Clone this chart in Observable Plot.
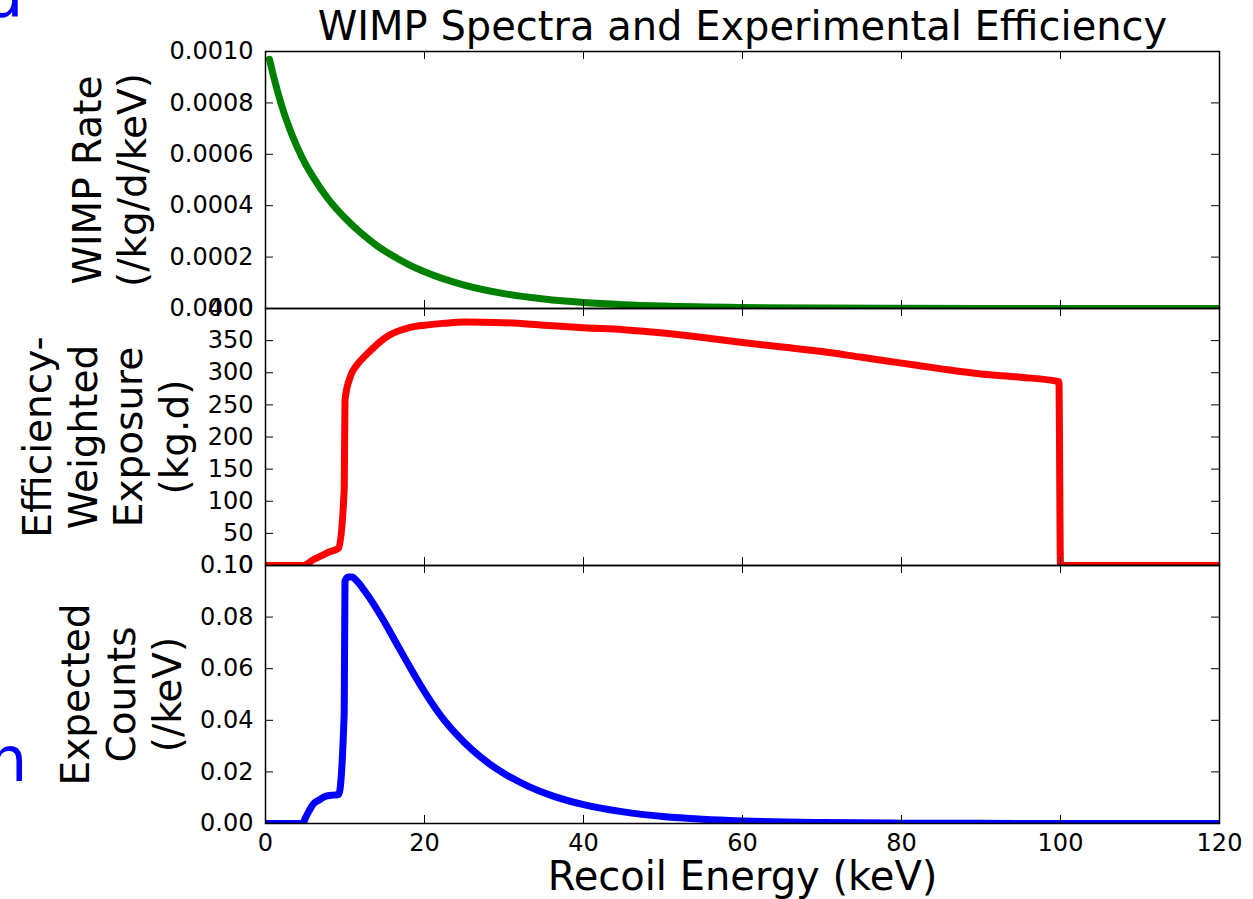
<!DOCTYPE html>
<html>
<head>
<meta charset="utf-8">
<script src="https://cdn.jsdelivr.net/npm/d3@7"></script>
<script src="https://cdn.jsdelivr.net/npm/@observablehq/plot@0.6"></script>
<style>
  html, body { margin: 0; padding: 0; background: #fff; }
  #wrap { position: relative; width: 1253px; height: 899px; overflow: hidden; font-family: "DejaVu Sans", sans-serif; }
  #wrap svg { position: absolute; left: 0; top: 0; }
  .frag { position: absolute; color: #0000ff; font-family: "DejaVu Sans", sans-serif; font-size: 62px; line-height: 62px; white-space: pre; }
</style>
</head>
<body>
<div id="wrap">
  <div class="frag" style="left:-16px; top:-36px;">d</div>
  <div class="frag" style="left:-12px; top:729px;">n</div>
</div>
<script>
// ---- data ----
const title = "WIMP Spectra and Experimental Efficiency";
const xLabel = "Recoil Energy (keV)";
const xTicks = [0, 20, 40, 60, 80, 100, 120];

// Panel 1: WIMP rate
const rateLabel = "WIMP Rate\n(/kg/d/keV)";
const rateTicks = [0, 0.0002, 0.0004, 0.0006, 0.0008, 0.0010];
const rateEnergy = [0.5, 1, 2, 3, 4, 5, 6, 7, 8, 9, 10, 12, 14, 16, 18, 20, 25, 30, 35, 40, 45, 50, 60, 70, 80, 90, 100, 110, 120];
const rateValue  = [0.00097, 0.000905, 0.000793, 0.000702, 0.000627, 0.000564, 0.000511, 0.000464, 0.000422, 0.000385, 0.000352, 0.000294, 0.000245, 0.000205, 0.000171, 0.000143, 0.000091, 0.000058, 0.000037, 0.0000235, 0.000015, 0.0000095, 0.0000038, 0.0000015, 0.0000006, 0.0000002, 0.0000001, 0, 0];

// Panel 2: efficiency-weighted exposure
const expoLabel = "Efficiency-\nWeighted\nExposure\n(kg.d)";
const expoTicks = [0, 50, 100, 150, 200, 250, 300, 350, 400];
const expoEnergy = [0, 4.8, 6, 7, 8, 9.2, 9.9, 10.0, 10.7, 11.5, 12.5, 13.5, 14.5, 15.5, 16.5, 18, 20, 22.5, 25, 30, 35, 40, 45, 50, 55, 60, 65, 70, 75, 80, 85, 90, 95, 99.8, 100, 120];
const expoValue  = [0, 0, 9, 15, 21, 27, 118, 258, 295, 312, 326, 338, 349, 358, 364, 370, 374, 377, 379, 378, 374, 370, 367, 362, 355, 347, 340, 333, 324, 315, 306, 298, 293, 286, 0, 0];

// Panel 3: expected counts
const countLabel = "Expected\nCounts\n(/keV)";
const countTicks = [0, 0.02, 0.04, 0.06, 0.08, 0.10];
const countEnergy = [0, 4.7, 5, 5.5, 6, 6.7, 7.5, 8.5, 9.2, 9.9, 10.0, 10.4, 10.9, 11.5, 12.5, 13.5, 14.5, 15.5, 16.5, 17.5, 18.5, 19.5, 20.5, 21.5, 22.5, 24, 26, 28, 30, 33, 36, 40, 45, 50, 55, 60, 70, 80, 90, 100, 100.1, 120];
const countValue  = [0, 0, 0.002, 0.005, 0.0075, 0.009, 0.0105, 0.011, 0.0112, 0.043, 0.094, 0.0955, 0.0955, 0.094, 0.0900, 0.0855, 0.0805, 0.0752, 0.0697, 0.0642, 0.0588, 0.0536, 0.0487, 0.0441, 0.0400, 0.0346, 0.0285, 0.0235, 0.0194, 0.0145, 0.0108, 0.0073, 0.0045, 0.0027, 0.00165, 0.0010, 0.00038, 0.00014, 0.00005, 0.00002, 0, 0];

// ---- layout ----
const W = 1253, H = 899, ML = 265, MR = 34;
const FONT = "DejaVu Sans";

function panel({energy, value, color, yDomain, yTicks, yFormat, label, labelDx, lineH, top, bottom, extra = [], xAxis = false}) {
  const ph = bottom - top, pw = W - ML - MR;
  const data = energy.map((e, i) => ({e, v: value[i]}));
  const marks = [
    Plot.line(data, {x: "e", y: "v", stroke: color, strokeWidth: 7, strokeLinejoin: "round", curve: "monotone-x", clip: true}),
    Plot.tickX(xTicks, {x: d => d, insetTop: ph - 8, stroke: "black", strokeWidth: 1}),
    Plot.tickX(xTicks, {x: d => d, insetBottom: ph - 8, stroke: "black", strokeWidth: 1}),
    Plot.tickY(yTicks, {y: d => d, insetRight: pw - 8, stroke: "black", strokeWidth: 1}),
    Plot.tickY(yTicks, {y: d => d, insetLeft: pw - 8, stroke: "black", strokeWidth: 1}),
    Plot.frame({stroke: "black", strokeWidth: 1.5}),
    Plot.axisY({ticks: yTicks, tickSize: 0, tickPadding: 12, tickFormat: yFormat, fontSize: 24, fill: "black", label: null}),
    Plot.text([label], {frameAnchor: "left", rotate: -90, textAnchor: "middle", lineAnchor: "bottom",
                        dx: labelDx, fontSize: 39, lineHeight: lineH, fill: "black"}),
    ...extra
  ];
  if (xAxis) marks.push(Plot.axisX({ticks: xTicks, tickSize: 0, tickPadding: 10, fontSize: 24, fill: "black", label: null}));
  return Plot.plot({
    width: W, height: H,
    marginTop: top, marginBottom: H - bottom, marginLeft: ML, marginRight: MR,
    x: {domain: [0, 120], label: null, axis: xAxis ? undefined : null},
    y: {domain: yDomain, label: null},
    style: {background: "transparent", fontFamily: FONT, color: "black", overflow: "visible"},
    marks
  });
}

const wrap = document.getElementById("wrap");

wrap.appendChild(panel({
  energy: rateEnergy, value: rateValue, color: "#008000",
  yDomain: [0, 0.001], yTicks: rateTicks, yFormat: d3.format(".4f"),
  label: rateLabel, labelDx: -120, lineH: 45 / 39, top: 51, bottom: 308,
  extra: [Plot.text([title], {frameAnchor: "top", dy: -24.5, lineAnchor: "middle", fontSize: 40, fill: "black"})]
}));

wrap.appendChild(panel({
  energy: expoEnergy, value: expoValue, color: "#ff0000",
  yDomain: [0, 400], yTicks: expoTicks, yFormat: d3.format("d"),
  label: expoLabel, labelDx: -78, lineH: 45.5 / 39, top: 308, bottom: 565
}));

wrap.appendChild(panel({
  energy: countEnergy, value: countValue, color: "#0000ff",
  yDomain: [0, 0.1], yTicks: countTicks, yFormat: d3.format(".2f"),
  label: countLabel, labelDx: -85, lineH: 46 / 39, top: 565, bottom: 823,
  xAxis: true,
  extra: [Plot.text([xLabel], {frameAnchor: "bottom", dy: 54, lineAnchor: "middle", fontSize: 40, fill: "black"})]
}));
</script>
</body>
</html>
